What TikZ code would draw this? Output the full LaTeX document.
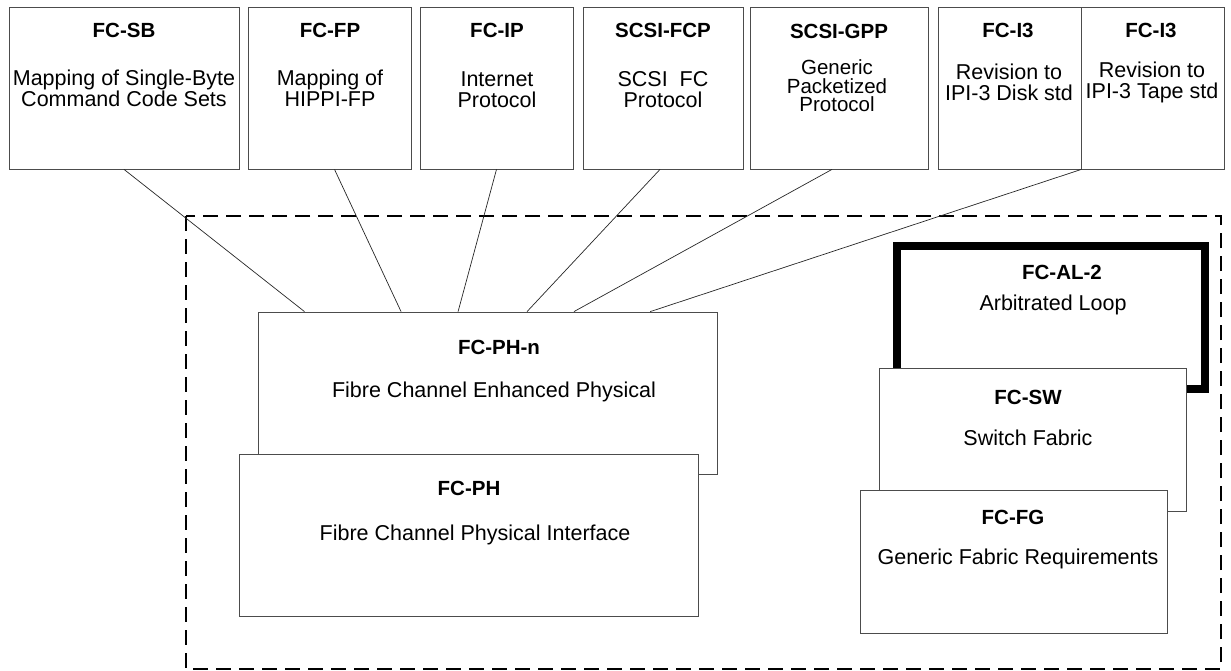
\documentclass[tikz,border=0pt]{standalone}
\usepackage{fontspec}
\setmainfont{Liberation Sans}
\usetikzlibrary{calc}

\tikzset{
  box/.style={draw=black!70,fill=white,line width=0.8pt},
  loopbox/.style={draw=black,line width=8pt},
  ttl/.style={font=\bfseries\fontsize{20.5}{21}\selectfont},
  dsc/.style={font=\fontsize{21.5}{21}\selectfont,align=center},
  link/.style={draw=black!85,line width=0.7pt},
  frame/.style={draw=black,line width=2pt,dash pattern=on 15pt off 8pt}
}

\begin{document}
\begin{tikzpicture}[x=1pt,y=-1pt]
\useasboundingbox (0,0) rectangle (1231,671);

% upper layer protocols
\node[box,minimum width=230pt,minimum height=162pt] (sb) at (124,88) {};
\node[box,minimum width=163pt,minimum height=162pt] (fp) at (329.5,88) {};
\node[box,minimum width=153pt,minimum height=162pt] (ip) at (496.5,88) {};
\node[box,minimum width=160pt,minimum height=162pt] (fcp) at (663,88) {};
\node[box,minimum width=178pt,minimum height=162pt] (gpp) at (839,88) {};
\node[box,minimum width=143pt,minimum height=162pt] (disk) at (1009.5,88) {};
\node[box,minimum width=143pt,minimum height=162pt] (tape) at (1152.5,88) {};

\node[ttl] (sbT) at (124,30) {FC-SB};
\node[dsc] (sbD) at (124,88) {Mapping of Single-Byte\\Command Code Sets};
\node[ttl] (fpT) at (330,30) {FC-FP};
\node[dsc] (fpD) at (330,88) {Mapping of\\HIPPI-FP};
\node[ttl] (ipT) at (497,30) {FC-IP};
\node[dsc] (ipD) at (497,90) {Internet\\Protocol};
\node[ttl] (fcpT) at (663,30) {SCSI-FCP};
\node[dsc] (fcpD) at (663,90) {SCSI\ \ FC\\Protocol};
\node[ttl] (gppT) at (839,31) {SCSI-GPP};
\node[dsc,font=\fontsize{20.5}{18.5}\selectfont] (gppD) at (837,86) {Generic\\Packetized\\Protocol};
\node[ttl] (diskT) at (1008,30) {FC-I3};
\node[dsc] (diskD) at (1009,82) {Revision to\\IPI-3 Disk std};
\node[ttl] (tapeT) at (1151,30) {FC-I3};
\node[dsc] (tapeD) at (1152,82) {Revision to\\IPI-3 Tape std};

% dashed frame
\draw[frame] (186,216) rectangle (1221,669);

% physical layer
\node[box,minimum width=459pt,minimum height=162pt] (phn) at (487.5,393) {};
\node[ttl] (phnT) at (499,347) {FC-PH-n};
\node[dsc] (phnD) at (494,392) {Fibre Channel Enhanced Physical};

\node[box,minimum width=459pt,minimum height=162pt] (ph) at (468.5,535) {};
\node[ttl] (phT) at (469,488) {FC-PH};
\node[dsc] (phD) at (475,535) {Fibre Channel Physical Interface};

% loop and fabric
\node[loopbox,minimum width=308pt,minimum height=143pt] (al) at (1051,317.5) {};
\node[ttl] (alT) at (1062,272) {FC-AL-2};
\node[dsc] (alD) at (1053,305) {Arbitrated Loop};

\node[box,minimum width=307pt,minimum height=143pt] (sw) at (1032.5,439.5) {};
\node[ttl] (swT) at (1028,397) {FC-SW};
\node[dsc] (swD) at (1028,438) {Switch Fabric};

\node[box,minimum width=307pt,minimum height=143pt] (fg) at (1013.5,561.5) {};
\node[ttl] (fgT) at (1013,517) {FC-FG};
\node[dsc] (fgD) at (1018,559) {Generic Fabric Requirements};

% links down to FC-PH-n
\draw[link] (sb.south) -- ($(phn.north west)!0.102!(phn.north east)$);
\draw[link] ($(fp.south)+(5,0)$) -- ($(phn.north west)!0.312!(phn.north east)$);
\draw[link] (ip.south) -- ($(phn.north west)!0.436!(phn.north east)$);
\draw[link] ($(fcp.south)+(-3,0)$) -- ($(phn.north west)!0.586!(phn.north east)$);
\draw[link] ($(gpp.south)+(-7,0)$) -- ($(phn.north west)!0.688!(phn.north east)$);
\draw[link] (disk.south east) -- ($(phn.north west)!0.854!(phn.north east)$);

\end{tikzpicture}
\end{document}
